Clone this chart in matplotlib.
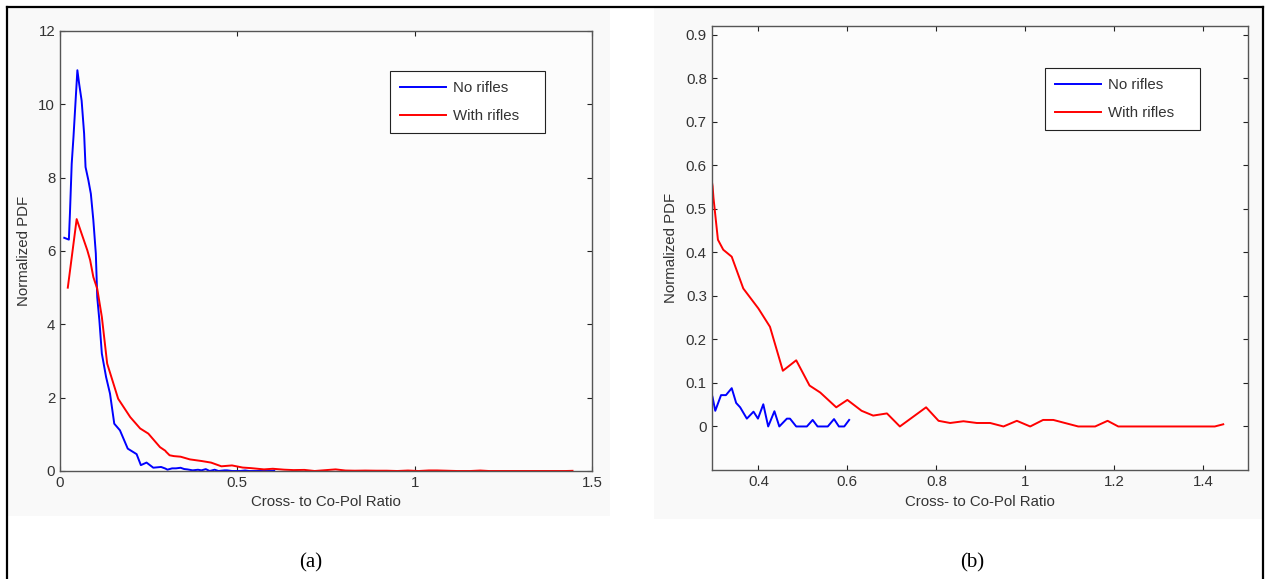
import matplotlib
matplotlib.use("Agg")
import matplotlib.pyplot as plt
from matplotlib.patches import Rectangle
from matplotlib.lines import Line2D
from matplotlib.ticker import FormatStrFormatter

# cross- to co-pol ratio histograms (normalized PDF)
x_no_rifles = [0.012, 0.025, 0.028, 0.033, 0.038, 0.049, 0.054, 0.061, 0.068, 0.072,
               0.080, 0.087, 0.094, 0.101, 0.105, 0.111, 0.118, 0.130, 0.141, 0.153,
               0.169, 0.191, 0.216, 0.228, 0.244, 0.263, 0.285, 0.297, 0.303, 0.316,
               0.327, 0.340, 0.350, 0.359, 0.374, 0.389, 0.399, 0.411, 0.422, 0.436,
               0.447, 0.464, 0.471, 0.485, 0.509, 0.522, 0.533, 0.556, 0.570, 0.581,
               0.593, 0.604]
pdf_no_rifles = [6.36, 6.31, 7.02, 8.38, 9.11, 10.93, 10.56, 10.10, 9.20, 8.29,
                 7.93, 7.56, 6.84, 5.93, 4.74, 4.11, 3.20, 2.56, 2.11, 1.29,
                 1.11, 0.61, 0.46, 0.16, 0.23, 0.09, 0.11, 0.067, 0.036, 0.072,
                 0.072, 0.088, 0.054, 0.044, 0.018, 0.034, 0.018, 0.051, 0.0, 0.035,
                 0.0, 0.018, 0.018, 0.0, 0.0, 0.015, 0.0, 0.0, 0.017, 0.0,
                 0.0, 0.015]

x_with_rifles = [0.022, 0.047, 0.061, 0.077, 0.085, 0.094, 0.105, 0.118, 0.133, 0.164,
                 0.198, 0.226, 0.249, 0.282, 0.297, 0.299, 0.309, 0.321, 0.340, 0.366,
                 0.400, 0.426, 0.455, 0.485, 0.515, 0.539, 0.575, 0.600, 0.632, 0.658,
                 0.689, 0.718, 0.777, 0.805, 0.831, 0.861, 0.891, 0.921, 0.951, 0.981,
                 1.011, 1.040, 1.063, 1.119, 1.157, 1.185, 1.209, 1.426, 1.445]
pdf_with_rifles = [5.0, 6.87, 6.47, 6.02, 5.75, 5.29, 4.97, 4.2, 2.93, 1.97,
                   1.47, 1.16, 1.02, 0.65, 0.552, 0.525, 0.429, 0.406, 0.39, 0.317,
                   0.271, 0.229, 0.128, 0.152, 0.094, 0.078, 0.044, 0.061, 0.036, 0.025,
                   0.03, 0.0, 0.044, 0.013, 0.008, 0.012, 0.008, 0.008, 0.0, 0.013,
                   0.0, 0.015, 0.015, 0.0, 0.0, 0.013, 0.0, 0.0, 0.005]

series_labels = ["No rifles", "With rifles"]
xlabel = "Cross- to Co-Pol Ratio"
ylabel = "Normalized PDF"
captions = ["(a)", "(b)"]

W, H = 1265, 579
plt.rcParams["font.family"] = ["Liberation Sans", "DejaVu Sans"]
fig = plt.figure(figsize=(W / 100, H / 100), dpi=100, facecolor="white")


def px_box(x0, y0, x1, y1):
    # pixel box (top-left origin) -> figure fraction rect
    return [x0 / W, 1 - y1 / H, (x1 - x0) / W, (y1 - y0) / H]


# light grey panel backgrounds, kept behind the axes
for (x0, y0, x1, y1) in [(8, 8, 610, 516), (654, 8, 1262, 519)]:
    fig.patches.append(Rectangle((x0 / W, 1 - y1 / H), (x1 - x0) / W, (y1 - y0) / H,
                                 transform=fig.transFigure, facecolor="#f9f9f9",
                                 edgecolor="none", zorder=-5))

# table border
bx0, bx1, by = 6.5 / W, 1263 / W, 1 - 7.3 / H
for xs, ys in [([bx0, bx0], [0, by]), ([bx1, bx1], [0, by]), ([bx0, bx1], [by, by])]:
    fig.lines.append(Line2D(xs, ys, transform=fig.transFigure, color="black", lw=1.6,
                            zorder=-4))

ax_a = fig.add_axes(px_box(60, 31, 592, 471))
ax_b = fig.add_axes(px_box(711.7, 26, 1247.7, 470))

tick_color = "#333333"
for ax, unclipped in [(ax_a, True), (ax_b, False)]:
    ax.set_facecolor("#fcfcfc")
    ax.plot(x_no_rifles, pdf_no_rifles, color="#0000ff", lw=1.4, label=series_labels[0],
            clip_on=not unclipped)
    ax.plot(x_with_rifles, pdf_with_rifles, color="#ff0000", lw=1.4, label=series_labels[1],
            clip_on=not unclipped)
    for s in ax.spines.values():
        s.set_color("#555555")
        s.set_linewidth(1.0)
    ax.tick_params(direction="in", top=True, right=True, length=3.6, width=0.8,
                   color="#222222", labelcolor=tick_color, labelsize=10.8, pad=3.5)
    ax.xaxis.set_major_formatter(FormatStrFormatter("%g"))
    ax.yaxis.set_major_formatter(FormatStrFormatter("%g"))
    ax.set_xlabel(xlabel, fontsize=10.8, color=tick_color, va="center")
    ax.set_ylabel(ylabel, fontsize=10.8, color=tick_color, va="center")

ax_a.set_xlim(0, 1.5)
ax_a.set_ylim(0, 12)
ax_a.set_xticks([0, 0.5, 1, 1.5])
ax_a.set_yticks(range(0, 13, 2))
ax_a.xaxis.set_label_coords(0.5, -0.0705)
ax_a.yaxis.set_label_coords(-0.068, 0.5)

ax_b.set_xlim(0.295, 1.5)
ax_b.set_ylim(-0.1, 0.92)
ax_b.set_xticks([0.4, 0.6, 0.8, 1.0, 1.2, 1.4])
ax_b.set_yticks([0, 0.1, 0.2, 0.3, 0.4, 0.5, 0.6, 0.7, 0.8, 0.9])
ax_b.xaxis.set_label_coords(0.5, -0.073)
ax_b.yaxis.set_label_coords(-0.076, 0.5)

for ax, anchor in [(ax_a, (0.62, 0.75, 0.292, 0.159)), (ax_b, (0.622, 0.745, 0.289, 0.16))]:
    leg = ax.legend(loc="upper left", bbox_to_anchor=anchor, mode="expand",
                    borderaxespad=0, fancybox=False, framealpha=1,
                    edgecolor="#222222", facecolor="white", fontsize=10.8,
                    handlelength=3.1, handletextpad=0.45, labelspacing=0.95,
                    borderpad=0.65)
    leg.get_frame().set_linewidth(0.8)
    for t in leg.get_texts():
        t.set_color(tick_color)

# captions under each panel
for cx, cap in zip([311, 972], captions):
    fig.text(cx / W, 1 - 563 / H, cap, ha="center", va="center", fontsize=15,
             family=["Liberation Serif", "DejaVu Serif"])

fig.savefig("out.png", dpi=100, facecolor="white")
